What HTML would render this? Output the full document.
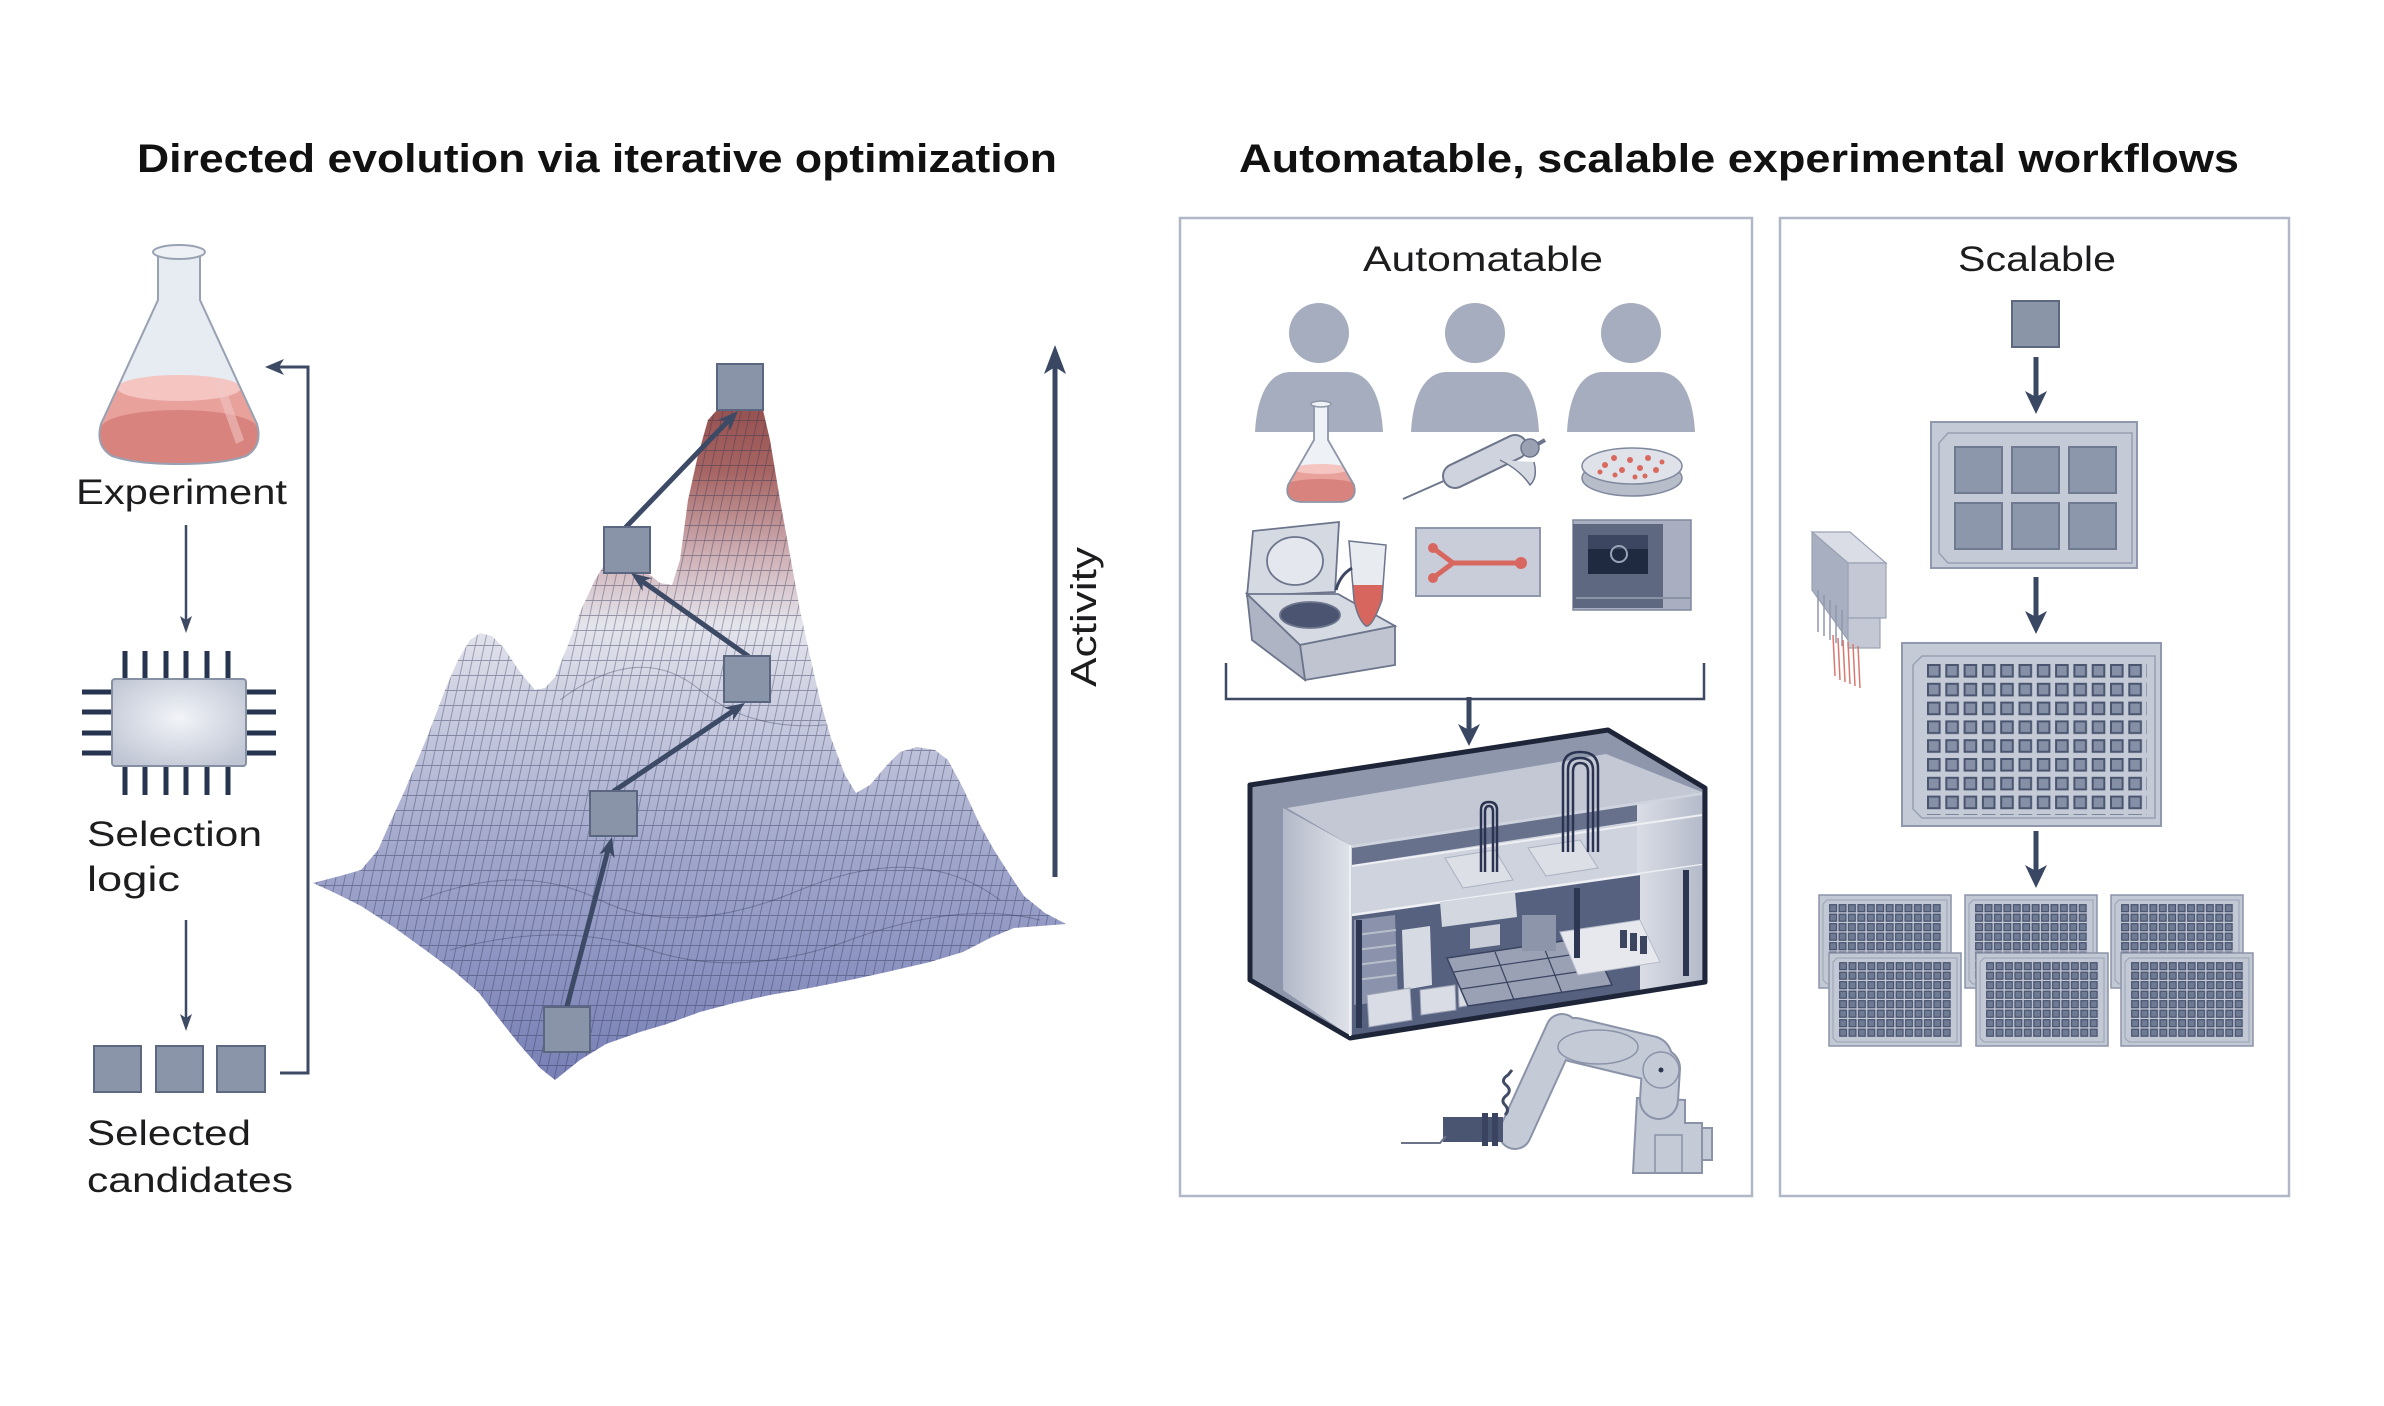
<!DOCTYPE html>
<html><head><meta charset="utf-8">
<style>
html,body{margin:0;padding:0;background:#fff;}
svg{display:block;}
text{font-family:"Liberation Sans",sans-serif;fill:#1d1d1f;}
</style></head>
<body>
<svg width="2384" height="1406" viewBox="0 0 2384 1406" xmlns="http://www.w3.org/2000/svg">
<defs>
 <linearGradient id="land" x1="0" y1="380" x2="0" y2="1080" gradientUnits="userSpaceOnUse">
  <stop offset="0" stop-color="#8f4a49"/>
  <stop offset="0.13" stop-color="#a66462"/>
  <stop offset="0.25" stop-color="#cfb0b5"/>
  <stop offset="0.35" stop-color="#e4e4ec"/>
  <stop offset="0.48" stop-color="#c8cbdf"/>
  <stop offset="0.68" stop-color="#a0a6cb"/>
  <stop offset="1" stop-color="#7880b6"/>
 </linearGradient>
 <pattern id="mesh" width="9" height="15" patternUnits="userSpaceOnUse" patternTransform="skewX(-12)">
  <path d="M0.5,0 V15 M0,0.5 H9" stroke="#2a3050" stroke-width="0.9" fill="none" opacity="0.42"/>
 </pattern>
 <clipPath id="landclip">
  <path id="landpath" d="M313,883 L340,876 L361,870 L378,850 L389,825 L405,790 L428,735 L445,690 L458,660 L470,640 L480,633 L492,636 L504,648 L520,672 L535,690 L545,688 L555,677 L568,645 L581,610 L595,580 L606,562 L615,553 L650,575 L660,583 L672,585 L680,560 L688,500 L698,455 L708,420 L717,410 L763,410 L770,440 L780,500 L790,555 L800,610 L810,656 L820,700 L831,738 L845,775 L856,793 L870,785 L887,765 L900,752 L917,747 L935,750 L948,760 L963,788 L980,825 L994,850 L1010,875 L1024,896 L1045,913 L1066,924 L1040,926 L1014,928 L990,938 L963,952 L930,962 L887,972 L850,980 L810,988 L770,995 L734,1003 L700,1012 L667,1024 L640,1032 L606,1044 L580,1060 L555,1080 L540,1068 L519,1044 L500,1020 L479,993 L455,972 L428,952 L395,928 L361,906 L335,893 Z"/>
 </clipPath>
 <radialGradient id="chipg" cx="0.5" cy="0.45" r="0.65">
  <stop offset="0" stop-color="#f2f4f8"/>
  <stop offset="1" stop-color="#bfc5d3"/>
 </radialGradient>
 <clipPath id="flaskclip">
  <path d="M158,256 L158,300 L101,424 Q95,446 112,456 Q135,464 179,464 Q223,464 246,456 Q263,446 257,424 L200,300 L200,256 Z"/>
 </clipPath>
 <clipPath id="sflaskclip">
  <path d="M1314,405 L1314,440 L1288,485 Q1284,500 1300,502 L1342,502 Q1358,500 1354,485 L1328,440 L1328,405 Z"/>
 </clipPath>
 <clipPath id="tubeclip">
  <path d="M1349,541 L1386,545 L1382,600 Q1372,628 1366,626 Q1358,620 1354,600 Z"/>
 </clipPath>
 <pattern id="p96" x="1927" y="664" width="18.3" height="18.8" patternUnits="userSpaceOnUse">
  <rect x="1" y="1" width="11.6" height="11.6" fill="#8590a6" stroke="#4a5570" stroke-width="2"/>
 </pattern>
 <pattern id="p12" x="10" y="9" width="9.42" height="9.5" patternUnits="userSpaceOnUse">
  <rect x="0.7" y="0.7" width="6.8" height="7" fill="#6f7a93" stroke="#46516d" stroke-width="1.2"/>
 </pattern>
 <g id="sp">
  <rect x="0" y="0" width="132" height="93" fill="#c3c8d5" stroke="#8b94a8" stroke-width="1.5"/>
  <path d="M8,5 H128 V89 H8 L4,85 V9 Z" fill="none" stroke="#9aa2b5" stroke-width="1"/>
  <rect x="10" y="9" width="113" height="76" fill="url(#p12)"/>
 </g>
 <linearGradient id="lwall" x1="0" y1="0" x2="1" y2="0">
  <stop offset="0" stop-color="#b3b9c8"/>
  <stop offset="1" stop-color="#dfe2e9"/>
 </linearGradient>
 <linearGradient id="rwall" x1="0" y1="0" x2="1" y2="0">
  <stop offset="0" stop-color="#dadde5"/>
  <stop offset="1" stop-color="#b5bbca"/>
 </linearGradient>
</defs>

<!-- Titles -->
<text x="137" y="172" font-size="40" font-weight="bold" textLength="920" lengthAdjust="spacingAndGlyphs" style="fill:#111">Directed evolution via iterative optimization</text>
<text x="1239" y="172" font-size="40" font-weight="bold" textLength="1000" lengthAdjust="spacingAndGlyphs" style="fill:#111">Automatable, scalable experimental workflows</text>

<!-- ===== LEFT COLUMN ===== -->
<!-- Flask -->
<path d="M158,256 L158,300 L101,424 Q95,446 112,456 Q135,464 179,464 Q223,464 246,456 Q263,446 257,424 L200,300 L200,256 Z" fill="#e6ecf2"/>
<g clip-path="url(#flaskclip)">
 <rect x="90" y="386" width="180" height="90" fill="#e9a19c"/>
 <ellipse cx="179" cy="388" rx="62" ry="13" fill="#f4c5c1"/>
 <ellipse cx="179" cy="428" rx="78" ry="18" fill="#d8837e"/>
 <rect x="90" y="428" width="180" height="50" fill="#d8837e"/>
 <path d="M222,378 L244,440 L236,444 L214,382 Z" fill="#f3c9c6" opacity="0.55"/>
</g>
<path d="M158,256 L158,300 L101,424 Q95,446 112,456 Q135,464 179,464 Q223,464 246,456 Q263,446 257,424 L200,300 L200,256" fill="none" stroke="#98a1b2" stroke-width="2"/>
<ellipse cx="179" cy="252" rx="26" ry="7" fill="#eef1f5" stroke="#99a2b3" stroke-width="2"/>
<text x="76" y="504" font-size="35" textLength="211" lengthAdjust="spacingAndGlyphs">Experiment</text>

<!-- arrow 1 -->
<line x1="186" y1="525" x2="186" y2="622" stroke="#3e4a64" stroke-width="2.5"/>
<polygon points="186,633 192,616 186,620 180,616" fill="#3e4a64"/>

<!-- Chip -->
<g stroke="#263450" stroke-width="5" stroke-linecap="butt">
 <line x1="125" y1="651" x2="125" y2="680"/><line x1="145" y1="651" x2="145" y2="680"/>
 <line x1="166" y1="651" x2="166" y2="680"/><line x1="186" y1="651" x2="186" y2="680"/>
 <line x1="207" y1="651" x2="207" y2="680"/><line x1="228" y1="651" x2="228" y2="680"/>
 <line x1="125" y1="765" x2="125" y2="795"/><line x1="145" y1="765" x2="145" y2="795"/>
 <line x1="166" y1="765" x2="166" y2="795"/><line x1="186" y1="765" x2="186" y2="795"/>
 <line x1="207" y1="765" x2="207" y2="795"/><line x1="228" y1="765" x2="228" y2="795"/>
 <line x1="82" y1="692" x2="113" y2="692"/><line x1="82" y1="712" x2="113" y2="712"/>
 <line x1="82" y1="733" x2="113" y2="733"/><line x1="82" y1="753" x2="113" y2="753"/>
 <line x1="245" y1="692" x2="276" y2="692"/><line x1="245" y1="712" x2="276" y2="712"/>
 <line x1="245" y1="733" x2="276" y2="733"/><line x1="245" y1="753" x2="276" y2="753"/>
</g>
<rect x="112" y="679" width="134" height="87" rx="3" fill="url(#chipg)" stroke="#8590a5" stroke-width="2"/>

<text x="87" y="846" font-size="35" textLength="175" lengthAdjust="spacingAndGlyphs">Selection</text>
<text x="87" y="891" font-size="35" textLength="93" lengthAdjust="spacingAndGlyphs">logic</text>

<!-- arrow 2 -->
<line x1="186" y1="920" x2="186" y2="1020" stroke="#3e4a64" stroke-width="2.5"/>
<polygon points="186,1031 192,1014 186,1018 180,1014" fill="#3e4a64"/>

<!-- candidates -->
<g fill="#8b95a9" stroke="#5d6881" stroke-width="2">
 <rect x="94" y="1046" width="47" height="46"/>
 <rect x="156" y="1046" width="47" height="46"/>
 <rect x="217" y="1046" width="48" height="46"/>
</g>
<text x="87" y="1145" font-size="35" textLength="164" lengthAdjust="spacingAndGlyphs">Selected</text>
<text x="87" y="1192" font-size="35" textLength="206" lengthAdjust="spacingAndGlyphs">candidates</text>

<!-- loop -->
<path d="M280,1073 H308 V367 H278" fill="none" stroke="#3e4a64" stroke-width="3"/>
<polygon points="265,367 284,359 279,367 284,375" fill="#3e4a64"/>

<!-- ===== LANDSCAPE ===== -->
<path d="M313,883 L340,876 L361,870 L378,850 L389,825 L405,790 L428,735 L445,690 L458,660 L470,640 L480,633 L492,636 L504,648 L520,672 L535,690 L545,688 L555,677 L568,645 L581,610 L595,580 L606,562 L615,553 L650,575 L660,583 L672,585 L680,560 L688,500 L698,455 L708,420 L717,410 L763,410 L770,440 L780,500 L790,555 L800,610 L810,656 L820,700 L831,738 L845,775 L856,793 L870,785 L887,765 L900,752 L917,747 L935,750 L948,760 L963,788 L980,825 L994,850 L1010,875 L1024,896 L1045,913 L1066,924 L1040,926 L1014,928 L990,938 L963,952 L930,962 L887,972 L850,980 L810,988 L770,995 L734,1003 L700,1012 L667,1024 L640,1032 L606,1044 L580,1060 L555,1080 L540,1068 L519,1044 L500,1020 L479,993 L455,972 L428,952 L395,928 L361,906 L335,893 Z" fill="url(#land)"/>
<g clip-path="url(#landclip)">
 <rect x="300" y="380" width="780" height="710" fill="url(#mesh)"/>
 <path d="M560,700 Q640,640 700,690 T860,720" fill="none" stroke="#2a3050" stroke-width="1" opacity="0.35"/>
 <path d="M420,900 Q520,860 600,900 T800,890 T1000,900" fill="none" stroke="#2a3050" stroke-width="1" opacity="0.35"/>
 <path d="M450,950 Q560,920 650,950 T850,940 T1040,920" fill="none" stroke="#2a3050" stroke-width="1" opacity="0.35"/>
</g>

<!-- landscape arrows -->
<g stroke="#3d4a66" stroke-width="5" stroke-linecap="round">
 <line x1="567" y1="1006" x2="608" y2="850"/>
 <line x1="614" y1="791" x2="733" y2="711"/>
 <line x1="748" y1="656" x2="642" y2="581"/>
 <line x1="626" y1="527" x2="728" y2="421"/>
</g>
<g fill="#8a94a8" stroke="#5b6680" stroke-width="2">
 <rect x="717" y="364" width="46" height="46"/>
 <rect x="604" y="527" width="46" height="46"/>
 <rect x="724" y="656" width="46" height="46"/>
 <rect x="590" y="791" width="47" height="45"/>
 <rect x="544" y="1007" width="46" height="45"/>
</g>
<g fill="#3d4a66">
 <polygon points="612,837 614.6,858.4 608.4,850.5 599.2,854.2"/>
 <polygon points="745,703 732.9,720.8 733.4,710.8 723.9,707.6"/>
 <polygon points="631,573 651.9,578.1 642.4,581.1 642.7,591.1"/>
 <polygon points="738,411 729.9,431 728.3,421.1 718.3,419.8"/>
</g>

<!-- Activity axis -->
<line x1="1055" y1="364" x2="1055" y2="877" stroke="#3a4763" stroke-width="5"/>
<polygon points="1055,345 1066,374 1055,367 1044,374" fill="#3a4763"/>
<text transform="translate(1096,687) rotate(-90)" font-size="36" textLength="140" lengthAdjust="spacingAndGlyphs">Activity</text>

<!-- ===== RIGHT PANELS ===== -->
<rect x="1180" y="218" width="572" height="978" fill="none" stroke="#b0b8c7" stroke-width="2.5"/>
<rect x="1780" y="218" width="509" height="978" fill="none" stroke="#b0b8c7" stroke-width="2.5"/>
<text x="1363" y="271" font-size="35" textLength="240" lengthAdjust="spacingAndGlyphs">Automatable</text>
<text x="1958" y="271" font-size="35" textLength="158" lengthAdjust="spacingAndGlyphs">Scalable</text>

<!-- persons -->
<g fill="#a6adbf">
 <circle cx="1319" cy="333" r="30"/>
 <path d="M1255,432 C1257,395 1269,372 1291,372 L1347,372 C1369,372 1381,395 1383,432 Z"/>
 <circle cx="1475" cy="333" r="30"/>
 <path d="M1411,432 C1413,395 1425,372 1447,372 L1503,372 C1525,372 1537,395 1539,432 Z"/>
 <circle cx="1631" cy="333" r="30"/>
 <path d="M1567,432 C1569,395 1581,372 1603,372 L1659,372 C1681,372 1693,395 1695,432 Z"/>
</g>

<!-- small flask -->
<path d="M1314,405 L1314,440 L1288,485 Q1284,500 1300,502 L1342,502 Q1358,500 1354,485 L1328,440 L1328,405 Z" fill="#eef1f5"/>
<g clip-path="url(#sflaskclip)">
 <rect x="1280" y="468" width="80" height="40" fill="#e9a19c"/>
 <ellipse cx="1321" cy="469" rx="28" ry="5" fill="#f4c5c1"/>
 <ellipse cx="1321" cy="486" rx="36" ry="7" fill="#d8837e"/>
 <rect x="1280" y="486" width="80" height="20" fill="#d8837e"/>
</g>
<path d="M1314,405 L1314,440 L1288,485 Q1284,500 1300,502 L1342,502 Q1358,500 1354,485 L1328,440 L1328,405" fill="none" stroke="#8d96a9" stroke-width="1.8"/>
<ellipse cx="1321" cy="404" rx="10" ry="3" fill="#eef1f5" stroke="#8d96a9" stroke-width="1.5"/>

<!-- pipette -->
<line x1="1403" y1="499" x2="1455" y2="476" stroke="#6c758b" stroke-width="2"/>
<line x1="1455" y1="476" x2="1515" y2="447" stroke="#6c758b" stroke-width="26" stroke-linecap="round"/>
<line x1="1455" y1="476" x2="1515" y2="447" stroke="#cfd3dd" stroke-width="22" stroke-linecap="round"/>
<path d="M1500,460 Q1520,470 1530,485 Q1538,478 1534,462" fill="#d5d9e2" stroke="#6c758b" stroke-width="1.5"/>
<circle cx="1530" cy="448" r="9" fill="#9aa1b3" stroke="#6c758b" stroke-width="1.5"/>
<line x1="1538" y1="444" x2="1545" y2="440" stroke="#6c758b" stroke-width="4"/>

<!-- petri dish -->
<ellipse cx="1632" cy="478" rx="50" ry="18" fill="#b8bdca" stroke="#7f889d" stroke-width="1.5"/>
<ellipse cx="1632" cy="466" rx="50" ry="18" fill="#dfe2e9" stroke="#7f889d" stroke-width="1.5"/>
<g fill="#d9685f">
 <circle cx="1605" cy="465" r="3"/><circle cx="1614" cy="458" r="3"/><circle cx="1622" cy="470" r="3"/>
 <circle cx="1630" cy="460" r="3"/><circle cx="1640" cy="468" r="3"/><circle cx="1648" cy="458" r="3"/>
 <circle cx="1656" cy="470" r="3"/><circle cx="1615" cy="475" r="2.5"/><circle cx="1635" cy="477" r="2.5"/>
 <circle cx="1662" cy="462" r="2.5"/><circle cx="1600" cy="472" r="2.5"/><circle cx="1645" cy="476" r="2.5"/>
</g>

<!-- centrifuge -->
<g stroke="#6c758b" stroke-width="1.8">
 <path d="M1253,531 L1339,522 L1335,592 L1247,596 Z" fill="#d5d9e2"/>
 <ellipse cx="1295" cy="561" rx="28" ry="24" fill="#e4e7ed"/>
 <path d="M1247,594 L1338,594 L1395,626 L1300,645 Z" fill="#d6dae2"/>
 <path d="M1300,645 L1395,626 L1395,665 L1305,680 Z" fill="#bfc4d0"/>
 <path d="M1247,594 L1300,645 L1305,680 L1252,640 Z" fill="#aeb4c3"/>
 <ellipse cx="1310" cy="615" rx="30" ry="13" fill="#4b5571"/>
</g>
<path d="M1349,541 L1386,545 L1382,600 Q1372,628 1366,626 Q1358,620 1354,600 Z" fill="#e8ebf0"/>
<g clip-path="url(#tubeclip)"><rect x="1345" y="585" width="45" height="45" fill="#d7665e"/></g>
<path d="M1349,541 L1386,545 L1382,600 Q1372,628 1366,626 Q1358,620 1354,600 Z" fill="none" stroke="#6c758b" stroke-width="1.5"/>
<path d="M1352,568 Q1340,575 1336,590" fill="none" stroke="#3d4662" stroke-width="3"/>

<!-- microfluidic chip -->
<rect x="1416" y="528" width="124" height="68" fill="#c9cdd9" stroke="#8e97ab" stroke-width="2"/>
<g stroke="#d7675f" stroke-width="5" fill="none" stroke-linecap="round">
 <path d="M1433,548 L1453,563 L1433,578"/>
 <line x1="1453" y1="563" x2="1521" y2="563"/>
</g>
<g fill="#d7675f"><circle cx="1433" cy="548" r="5"/><circle cx="1433" cy="578" r="5"/><circle cx="1521" cy="563" r="6"/></g>

<!-- incubator -->
<rect x="1573" y="520" width="118" height="90" fill="#a9aec0" stroke="#7f889d" stroke-width="1.5"/>
<rect x="1573" y="524" width="90" height="84" fill="#5f6881"/>
<rect x="1588" y="535" width="60" height="39" fill="#1f2940"/>
<rect x="1588" y="535" width="60" height="14" fill="#3d4660"/>
<circle cx="1619" cy="554" r="8" fill="none" stroke="#9aa2b6" stroke-width="2"/>
<line x1="1576" y1="598" x2="1690" y2="598" stroke="#8a92a6" stroke-width="2"/>

<!-- bracket -->
<path d="M1226,663 V699 H1704 V663" fill="none" stroke="#3d4862" stroke-width="2.5"/>
<line x1="1469" y1="697" x2="1469" y2="732" stroke="#3a4763" stroke-width="5"/>
<polygon points="1469,746 1480,724 1469,730 1458,724" fill="#3a4763"/>

<!-- automation box -->
<path d="M1250,785 L1608,730 L1705,788 L1705,982 L1350,1038 L1250,980 Z" fill="#8e96ac"/>
<path d="M1287,808 L1606,754 L1702,792 L1350,845 Z" fill="#c3c8d4"/>
<path d="M1283,808 L1350,845 L1350,1036 L1283,990 Z" fill="url(#lwall)"/>
<path d="M1350,845 L1702,792 L1702,982 L1350,1036 Z" fill="#cfd3dd"/>
<path d="M1352,848 L1637,805 L1637,821 L1352,865 Z" fill="#67718c"/>
<path d="M1637,805 L1702,795 L1702,865 L1637,874 Z" fill="url(#rwall)"/>
<line x1="1352" y1="866" x2="1702" y2="815" stroke="#eef0f4" stroke-width="2"/>
<path d="M1352,915 L1702,865 L1702,980 L1352,1036 Z" fill="#56617f"/>
<line x1="1352" y1="915" x2="1702" y2="865" stroke="#eef0f4" stroke-width="2.5"/>
<path d="M1640,874 L1702,865 L1702,980 L1640,990 Z" fill="url(#rwall)"/>
<!-- equipment lower -->
<path d="M1354,920 L1395,915 L1398,1000 L1354,1005 Z" fill="#8a93ab"/>
<g stroke="#b7bdca" stroke-width="2"><line x1="1356" y1="935" x2="1396" y2="930"/><line x1="1356" y1="950" x2="1396" y2="945"/><line x1="1356" y1="965" x2="1396" y2="960"/><line x1="1356" y1="980" x2="1396" y2="975"/></g>
<path d="M1402,930 L1430,926 L1432,985 L1404,990 Z" fill="#d6dae2"/>
<path d="M1367,995 L1410,988 L1412,1020 L1369,1027 Z" fill="#d9dce4" stroke="#9aa2b4" stroke-width="1"/>
<path d="M1420,990 L1455,985 L1456,1010 L1421,1015 Z" fill="#d9dce4" stroke="#9aa2b4" stroke-width="1"/>
<path d="M1458,982 L1492,977 L1493,1002 L1459,1007 Z" fill="#d9dce4" stroke="#9aa2b4" stroke-width="1"/>
<path d="M1447,958 L1590,937 L1612,985 L1468,1006 Z" fill="#9aa1b5" stroke="#3a4460" stroke-width="1.5"/>
<g stroke="#3a4460" stroke-width="1.2" fill="none">
 <path d="M1454,972 L1597,951 M1461,989 L1604,968 M1495,952 L1514,1000 M1543,945 L1562,993"/>
</g>
<path d="M1560,932 L1640,920 L1660,962 L1578,975 Z" fill="#e6e8ee" stroke="#b6bccb" stroke-width="1"/>
<path d="M1440,902 L1515,892 L1517,917 L1442,927 Z" fill="#d3d7e0"/>
<path d="M1470,928 L1500,924 L1500,945 L1470,949 Z" fill="#c9cdd8"/>
<rect x="1522" y="915" width="34" height="36" fill="#8d95ab"/>
<rect x="1574" y="888" width="6" height="70" fill="#2e3752"/>
<rect x="1356" y="920" width="6" height="108" fill="#2d3650"/>
<rect x="1683" y="870" width="6" height="106" fill="#2d3650"/>
<g fill="#3b4560"><rect x="1620" y="930" width="7" height="18"/><rect x="1630" y="933" width="7" height="18"/><rect x="1640" y="936" width="7" height="18"/></g>
<!-- upper gantry -->
<path d="M1445,858 L1495,850 L1513,880 L1463,888 Z" fill="#dcdfe6" stroke="#a9b0c0" stroke-width="1"/>
<path d="M1528,848 L1580,840 L1598,868 L1546,876 Z" fill="#dcdfe6" stroke="#a9b0c0" stroke-width="1"/>
<g fill="none" stroke="#2a3350" stroke-width="2.5">
 <path d="M1481,872 V810 Q1481,802 1489,802 Q1497,802 1497,810 V872"/>
 <path d="M1485,872 V812 Q1485,806 1489,806 Q1493,806 1493,812 V872"/>
 <path d="M1563,852 V768 Q1563,752 1580,752 Q1598,752 1598,768 V852"/>
 <path d="M1568,852 V770 Q1568,758 1580,758 Q1593,758 1593,770 V852"/>
 <path d="M1573,852 V772 Q1573,763 1580,763 Q1588,763 1588,772 V852"/>
</g>
<path d="M1250,785 L1608,730 L1705,788 L1705,982 L1350,1038 L1250,980 Z" fill="none" stroke="#1e2538" stroke-width="5" stroke-linejoin="round"/>
<line x1="1350" y1="845" x2="1350" y2="1036" stroke="#eef0f4" stroke-width="2"/>

<!-- robot arm -->
<g>
 <path d="M1637,1098 L1685,1100 L1685,1123 L1702,1123 L1702,1173 L1633,1173 Z" fill="#c5cad7" stroke="#8a93a8" stroke-width="2"/>
 <rect x="1702" y="1128" width="10" height="32" fill="#c5cad7" stroke="#8a93a8" stroke-width="2"/>
 <rect x="1655" y="1135" width="27" height="38" fill="none" stroke="#8a93a8" stroke-width="1.5"/>
 <g stroke-linecap="round">
  <line x1="1661" y1="1068" x2="1659" y2="1100" stroke="#8a93a8" stroke-width="40"/>
  <line x1="1575" y1="1040" x2="1650" y2="1058" stroke="#8a93a8" stroke-width="46"/>
  <line x1="1562" y1="1030" x2="1515" y2="1133" stroke="#8a93a8" stroke-width="34"/>
  <line x1="1661" y1="1068" x2="1659" y2="1100" stroke="#c5cad7" stroke-width="36"/>
  <line x1="1575" y1="1040" x2="1650" y2="1058" stroke="#c5cad7" stroke-width="42"/>
  <line x1="1562" y1="1030" x2="1515" y2="1133" stroke="#c5cad7" stroke-width="30"/>
 </g>
 <ellipse cx="1598" cy="1047" rx="40" ry="17" fill="none" stroke="#8a93a8" stroke-width="1.5"/>
 <circle cx="1661" cy="1070" r="18" fill="#c5cad7" stroke="#8a93a8" stroke-width="1.5"/>
 <circle cx="1661" cy="1070" r="2.5" fill="#2d3650"/>
 <rect x="1443" y="1117" width="60" height="25" fill="#4a5571"/>
 <rect x="1482" y="1113" width="6" height="33" fill="#3a4460"/>
 <rect x="1492" y="1113" width="6" height="33" fill="#3a4460"/>
 <path d="M1401,1143 H1440 L1446,1136" fill="none" stroke="#6b748a" stroke-width="2"/>
 <path d="M1505,1115 Q1510,1110 1505,1105 Q1500,1100 1507,1095 Q1512,1090 1506,1085 Q1500,1080 1508,1075 L1512,1070" fill="none" stroke="#404b66" stroke-width="3"/>
</g>

<!-- Scalable -->
<rect x="2012" y="301" width="47" height="46" fill="#8a95a8" stroke="#5d6881" stroke-width="2"/>
<line x1="2036" y1="357" x2="2036" y2="398" stroke="#3a4763" stroke-width="5"/>
<polygon points="2036,414 2047,391 2036,397 2025,391" fill="#3a4763"/>

<rect x="1931" y="422" width="206" height="146" fill="#c5cad7" stroke="#8f98ac" stroke-width="2"/>
<path d="M1948,433 H2132 V563 H1948 L1939,553 V443 Z" fill="none" stroke="#98a0b3" stroke-width="1.5"/>
<g fill="#8d97ab" stroke="#6f7a90" stroke-width="2">
 <rect x="1955" y="447" width="47" height="46"/><rect x="2012" y="447" width="47" height="46"/><rect x="2069" y="447" width="47" height="46"/>
 <rect x="1955" y="503" width="47" height="46"/><rect x="2012" y="503" width="47" height="46"/><rect x="2069" y="503" width="47" height="46"/>
</g>

<!-- tip head -->
<path d="M1812,532 L1850,532 L1886,563 L1848,563 Z" fill="#dadde5" stroke="#9aa2b4" stroke-width="1.2"/>
<path d="M1848,563 L1886,563 L1886,618 L1848,618 Z" fill="#c3c8d4" stroke="#9aa2b4" stroke-width="1.2"/>
<path d="M1812,532 L1848,563 L1848,640 L1812,590 Z" fill="#a8afc0" stroke="#9aa2b4" stroke-width="1.2"/>
<rect x="1848" y="618" width="32" height="30" fill="#c3c8d4" stroke="#9aa2b4" stroke-width="1.2"/>
<g stroke="#8f97aa" stroke-width="1.5"><line x1="1818" y1="590" x2="1818" y2="632"/><line x1="1824" y1="595" x2="1824" y2="636"/><line x1="1830" y1="600" x2="1830" y2="640"/><line x1="1836" y1="605" x2="1836" y2="643"/><line x1="1842" y1="610" x2="1842" y2="646"/></g>
<g stroke="#d9786f" stroke-width="1.5"><line x1="1833" y1="635" x2="1835" y2="676"/><line x1="1838" y1="638" x2="1840" y2="680"/><line x1="1843" y1="640" x2="1845" y2="682"/><line x1="1848" y1="642" x2="1850" y2="684"/><line x1="1853" y1="644" x2="1855" y2="686"/><line x1="1858" y1="646" x2="1860" y2="688"/></g>

<line x1="2036" y1="577" x2="2036" y2="618" stroke="#3a4763" stroke-width="5"/>
<polygon points="2036,634 2047,611 2036,617 2025,611" fill="#3a4763"/>

<!-- 96 plate -->
<rect x="1902" y="643" width="259" height="183" fill="#c5cad7" stroke="#8f98ac" stroke-width="2"/>
<path d="M1922,656 H2155 V818 H1922 L1913,809 V665 Z" fill="none" stroke="#98a0b3" stroke-width="1.5"/>
<rect x="1927" y="664" width="220" height="151" fill="url(#p96)"/>

<line x1="2036" y1="831" x2="2036" y2="872" stroke="#3a4763" stroke-width="5"/>
<polygon points="2036,888 2047,865 2036,871 2025,865" fill="#3a4763"/>

<!-- six plates -->
<use href="#sp" x="1819" y="895"/>
<use href="#sp" x="1965" y="895"/>
<use href="#sp" x="2111" y="895"/>
<use href="#sp" x="1829" y="953"/>
<use href="#sp" x="1976" y="953"/>
<use href="#sp" x="2121" y="953"/>
</svg>
</body></html>
